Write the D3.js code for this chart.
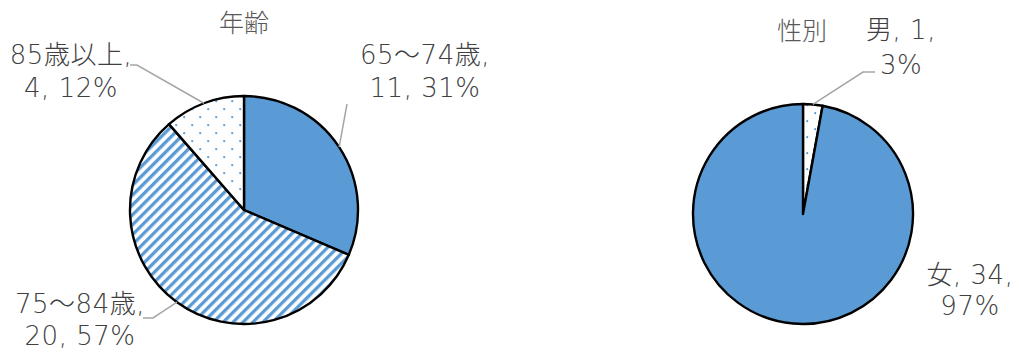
<!DOCTYPE html>
<html><head><meta charset="utf-8">
<script src="https://cdn.jsdelivr.net/npm/d3@7"></script>
<style>
html,body{margin:0;padding:0;background:#fff;}
svg text{font-family:"Noto Sans CJK JP","Noto Sans",sans-serif;font-weight:300;}
svg text.lbl{font-family:"DejaVu Sans","Noto Sans CJK JP",sans-serif;font-weight:200;}
</style></head>
<body><svg id="c" width="1019" height="354"></svg>
<script>
const ageCategories = ["65～74歳", "75～84歳", "85歳以上"];
const ageValues = [11, 20, 4];
const agePercents = [31, 57, 12];
const sexCategories = ["男", "女"];
const sexValues = [1, 34];
const sexPercents = [3, 97];
const titles = ["年齢", "性別"];

const svg = d3.select("#c");
const defs = svg.append("defs");
const blue = "#5B9BD5";

// patterns
const stripe = defs.append("pattern").attr("id","stripe").attr("patternUnits","userSpaceOnUse")
  .attr("width",7).attr("height",7).attr("patternTransform","rotate(45)");
stripe.append("rect").attr("width",7).attr("height",7).attr("fill","#fff");
stripe.append("rect").attr("width",3.3).attr("height",7).attr("fill",blue);
const dots = defs.append("pattern").attr("id","dots").attr("patternUnits","userSpaceOnUse")
  .attr("width",16).attr("height",16).attr("x",3).attr("y",2);
dots.append("rect").attr("width",16).attr("height",16).attr("fill","#fff");
dots.append("circle").attr("cx",1.2).attr("cy",1.2).attr("r",1.1).attr("fill",blue);
dots.append("circle").attr("cx",9.2).attr("cy",9.2).attr("r",1.1).attr("fill",blue);

const ageFills = [blue, "url(#stripe)", "url(#dots)"];
const sexFills = ["url(#dots)", blue];

function drawPie(cx, cy, r, values, fills){
  const pie = d3.pie().sort(null).value(d=>d);
  const arcs = pie(values);
  const arc = d3.arc().innerRadius(0).outerRadius(r);
  const g = svg.append("g").attr("transform",`translate(${cx},${cy})`);
  g.selectAll("path").data(arcs).join("path")
    .attr("d",arc).attr("fill",(d,i)=>fills[i])
    .attr("stroke","#000").attr("stroke-width",2.4).attr("stroke-linejoin","round");
  return arcs.map(a=>{
    const m=(a.startAngle+a.endAngle)/2;
    return [cx+r*Math.sin(m), cy-r*Math.cos(m)];
  });
}

const agePts = drawPie(244, 210, 114, ageValues, ageFills);
const sexPts = drawPie(803, 214, 110, sexValues, sexFills);

// titles
svg.append("text").attr("x",244).attr("y",32).attr("text-anchor","middle")
  .attr("font-size",25).attr("fill","#595959").text(titles[0]);
svg.append("text").attr("x",802).attr("y",40).attr("text-anchor","middle")
  .attr("font-size",25).attr("fill","#595959").text(titles[1]);

// labels
function label(x, y1, y2, cat, val, pct, splitAfterVal){
  const t = svg.append("text").attr("class","lbl").attr("text-anchor","middle").attr("font-size",26)
    .attr("fill","#404040").attr("letter-spacing",0.5);
  if(splitAfterVal){
    t.append("tspan").attr("x",x).attr("y",y1).text(`${cat}, ${val},`);
    t.append("tspan").attr("x",x).attr("y",y2).text(`${pct}%`);
  } else {
    t.append("tspan").attr("x",x).attr("y",y1).text(`${cat},`);
    t.append("tspan").attr("x",x).attr("y",y2).text(`${val}, ${pct}%`);
  }
}
label(425, 64, 97, ageCategories[0], ageValues[0], agePercents[0], false);
label(80, 313, 345, ageCategories[1], ageValues[1], agePercents[1], false);
label(71, 64, 97, ageCategories[2], ageValues[2], agePercents[2], false);
label(901, 39, 74, sexCategories[0], sexValues[0], sexPercents[0], true);
label(970, 284, 315, sexCategories[1], sexValues[1], sexPercents[1], true);

// leader lines
const line = d3.line();
function leader(pts){
  svg.append("path").attr("d",line(pts)).attr("fill","none")
    .attr("stroke","#A6A6A6").attr("stroke-width",1.5);
}
leader([[347,104], agePts[0]]);
leader([[143,318],[153,318], agePts[1]]);
leader([[130,65],[137,65], agePts[2]]);
leader([[875,72],[863,72], sexPts[0]]);
</script></body></html>
